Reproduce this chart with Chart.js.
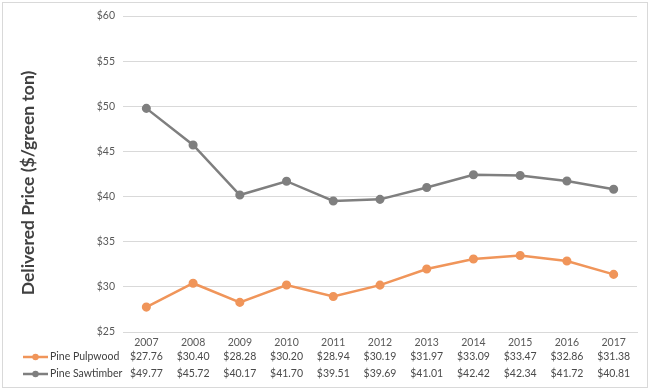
<html>
<head>
<style>
  body { margin: 0; background: #fff; }
  #wrap { width: 650px; height: 391px; position: relative; }
</style>
</head>
<body>
<div id="wrap"><canvas id="priceChart"></canvas></div>
<script src="https://cdn.jsdelivr.net/npm/chart.js"></script>
<script>
  // data
  const years = ['2007', '2008', '2009', '2010', '2011', '2012', '2013', '2014', '2015', '2016', '2017'];
  const pulpwood = [27.76, 30.40, 28.28, 30.20, 28.94, 30.19, 31.97, 33.09, 33.47, 32.86, 31.38];
  const sawtimber = [49.77, 45.72, 40.17, 41.70, 39.51, 39.69, 41.01, 42.42, 42.34, 41.72, 40.81];
  const yTicks = [25, 30, 35, 40, 45, 50, 55, 60];
  const yTitle = 'Delivered Price ($/green ton)';

  const orange = '#F0955A';
  const grey = '#7F7F7F';
  const fontFam = "Lato, 'Open Sans', sans-serif";

  // outer frame, y title (a bit below centre like the original) and the data table
  const tablePlugin = {
    id: 'dataTable',
    beforeDraw(chart) {
      const ctx = chart.ctx;
      ctx.save();
      ctx.strokeStyle = '#D9D9D9';
      ctx.lineWidth = 1;
      ctx.strokeRect(2.5, 2.5, 645, 385);
      ctx.restore();
    },
    afterDraw(chart) {
      const ctx = chart.ctx;
      const xs = chart.scales.x;
      const rows = [357, 374];
      ctx.save();
      ctx.translate(28, 183);
      ctx.rotate(-Math.PI / 2);
      ctx.font = 'bold 17.5px ' + fontFam;
      ctx.fillStyle = '#404040';
      ctx.textAlign = 'center';
      ctx.textBaseline = 'middle';
      ctx.fillText(yTitle, 0, 0);
      ctx.restore();

      ctx.save();
      ctx.font = '10.5px ' + fontFam;
      ctx.textBaseline = 'middle';
      chart.data.datasets.forEach(function (ds, r) {
        const y = rows[r];
        // legend key
        ctx.strokeStyle = ds.borderColor;
        ctx.lineWidth = 2.5;
        ctx.beginPath();
        ctx.moveTo(23, y);
        ctx.lineTo(48, y);
        ctx.stroke();
        ctx.fillStyle = ds.borderColor;
        ctx.beginPath();
        ctx.arc(35.5, y, 3.2, 0, Math.PI * 2);
        ctx.fill();
        ctx.fillStyle = '#404040';
        ctx.textAlign = 'left';
        ctx.fillText(ds.label, 50, y);
        // values
        ctx.fillStyle = '#4A4A4A';
        ctx.textAlign = 'center';
        ds.data.forEach(function (v, i) {
          ctx.fillText('$' + v.toFixed(2), xs.getPixelForValue(i), y);
        });
      });
      ctx.restore();
    }
  };

  const myChart = new Chart(document.getElementById('priceChart'), {
    type: 'line',
    data: {
      labels: years,
      datasets: [{
        label: 'Pine Pulpwood',
        data: pulpwood,
        borderColor: orange,
        backgroundColor: orange,
        borderWidth: 2.5,
        pointRadius: 3.3,
        pointHoverRadius: 3.3,
        tension: 0
      },
      {
        label: 'Pine Sawtimber',
        data: sawtimber,
        borderColor: grey,
        backgroundColor: grey,
        borderWidth: 2.5,
        pointRadius: 3.3,
        pointHoverRadius: 3.3,
        tension: 0
      }]
    },
    options: {
      responsive: true,
      maintainAspectRatio: false,
      animation: false,
      layout: { padding: { top: 16, right: 13, bottom: 3, left: 10 } },
      plugins: {
        legend: { display: false },
        tooltip: { enabled: false }
      },
      scales: {
        x: {
          offset: true,
          grid: { display: false, drawTicks: false },
          border: { color: '#D9D9D9' },
          ticks: { color: '#595959', font: { family: fontFam, size: 10.5 }, padding: 4 },
          afterFit: function (s) { s.height = 56; }
        },
        y: {
          min: 25,
          max: 60,
          afterBuildTicks: function (s) { s.ticks = yTicks.map(function (v) { return { value: v }; }); },
          grid: { color: '#D9D9D9', drawTicks: false },
          border: { display: false },
          ticks: {
            color: '#595959',
            font: { family: fontFam, size: 10.5 },
            padding: 8,
            callback: function (v) { return '$' + v; }
          },
          afterFit: function (s) { s.width = 113; }
        }
      }
    },
    plugins: [tablePlugin]
  });
</script>
</body>
</html>
